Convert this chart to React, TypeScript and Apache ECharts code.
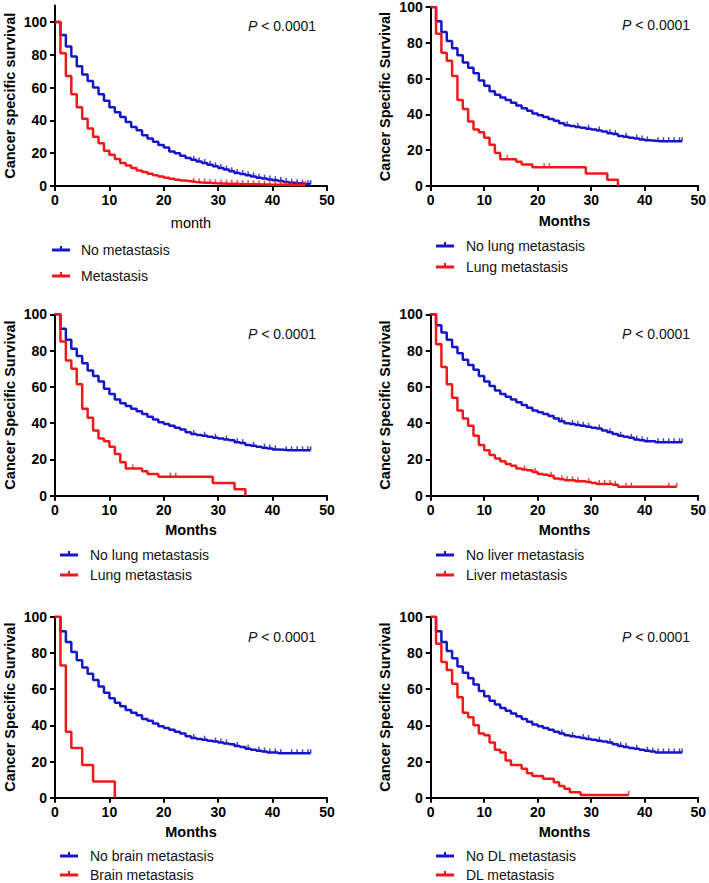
import React, { useEffect, useRef } from "react";
import * as echarts from "echarts";

// ---------- data (survival %, one value per month starting at month 0) ----------
const noMetastasis = [100, 92, 85, 79, 73, 68, 64, 60, 56, 52, 48, 45, 42, 39, 36, 34, 31, 29, 27, 25, 23.5, 21, 20, 18.5, 17, 16, 15, 14, 13, 12, 11, 10, 9, 8, 7.3, 6.5, 5.8, 5, 4.5, 4, 3.5, 3, 2.5, 2, 1.7, 1.4, 1.2, 1.2];
const metastasis = [100, 81, 67, 56, 48, 41, 35, 30, 26, 21.5, 19, 16.5, 14, 12.5, 11, 9.5, 8.5, 7.5, 6.5, 5.8, 5, 4.4, 3.8, 3.3, 2.9, 2.5, 2.2, 2, 1.8, 1.6, 1.5, 1.4, 1.3, 1.2, 1.1, 1, 1, 0.9, 0.9, 0.8, 0.8, 0.7, 0.7, 0.6, 0.6, 0.5, 0.5];
const noMetastasisCensor = [25.5, 26.5, 27.5, 28.5, 29.5, 30.5, 31.5, 32.5, 33.5, 34.5, 35.5, 36.5, 37.5, 38.5, 39.5, 40.5, 41.5, 42.5, 43.5, 44.5, 45.5, 46.5, 47];
const metastasisCensor = [25.5, 26.5, 27.5, 28.5, 29.5, 30.5, 31.5, 32.5, 33.5, 34.5, 35.5, 36.5, 37.5, 38.5, 39.5, 40.5, 41.5, 42.5, 43.5, 44.5, 45.5, 46];

const noLung = [100, 92, 86, 81, 77, 73, 69, 66, 63, 59, 56, 53, 51, 49.5, 48, 46.5, 45, 43.5, 42, 40.5, 39.5, 38.5, 37.5, 36.5, 35, 34, 33.5, 33, 32.5, 32, 31.5, 31, 30.5, 29.5, 29, 28, 27.5, 27, 26.5, 26, 25.5, 25.3, 25, 25, 25, 25, 25, 25];
const lung = [100, 85, 74.5, 70, 61.5, 48, 43, 36, 31.5, 30, 27, 23, 18.5, 15, 15, 15, 13.5, 12, 12, 10.5, 10.5, 10.5, 10.5, 10.5, 10.5, 10.5, 10.5, 10.5, 10.5, 7, 7, 7, 7, 3.5, 3.5, 0];
const noLungCensor = [25.5, 27.5, 29.5, 31.5, 33.5, 34.5, 36.5, 38.5, 39.5, 40.5, 42.5, 43.5, 44.5, 45.5, 46.5, 47];
const lungCensor = [14.3, 21.2, 22.2];

const noLiver = [100, 94, 90, 86, 82, 78.5, 75, 72, 69.5, 66, 63, 60.5, 58, 56, 54.5, 53, 51.5, 50, 48.5, 47, 46, 45, 44, 42.5, 41, 40, 39.5, 39, 38.5, 38, 37.5, 37, 36, 35, 34, 33, 32.5, 32, 31, 30.5, 30, 30, 29.5, 29.5, 29.5, 29.5, 29.5, 29.5];
const liver = [100, 83.5, 71, 61.5, 54, 47, 42.5, 38.5, 33, 28, 25, 22.5, 20.5, 19, 17.5, 16.5, 15, 14.5, 14, 13, 12, 11.5, 11, 9.5, 9, 8.5, 8.5, 8, 8, 7.5, 7, 6.5, 6.5, 6.5, 6, 5, 5, 5, 5, 5, 5, 5, 5, 5, 5, 5, 5];
const noLiverCensor = [24.5, 26.5, 27.5, 28.5, 29.5, 31.5, 33.5, 35.5, 37.5, 38.5, 39.5, 40.5, 42.5, 43.5, 44.5, 45.5, 46.5, 47];
const liverCensor = [17.5, 19.5, 22.5, 24.5, 25.5, 26.5, 27.5, 29.5, 31.5, 32.5, 33.5, 34.5, 36.5, 37.5, 44.5, 46];

const noBrain = [100, 92, 86, 80.5, 76, 72, 68.5, 65, 61.5, 58, 55, 52.5, 50.5, 48.5, 47, 45.5, 43.5, 42.5, 41, 39.5, 38.5, 37.5, 36.5, 35.5, 34, 33, 32.5, 32, 31.5, 31, 30.5, 30, 29.5, 28.5, 28, 27, 26.5, 26, 25.5, 25, 25, 24.5, 24.5, 24.5, 24.5, 24.5, 24.5, 24.5];
const brain = [100, 73, 36.5, 27.5, 27.5, 18, 18, 9, 9, 9, 9, 0];
const noBrainCensor = [25.5, 27.5, 29.5, 30.5, 31.5, 33.5, 35.5, 37.5, 38.5, 39.5, 40.5, 41.5, 43.5, 44.5, 45.5, 46.5, 47];
const brainCensor: number[] = [];

const noDL = [100, 92, 86, 81, 77, 72.5, 69, 66, 62.5, 59, 56, 53.5, 51.5, 49.5, 48, 46.5, 45, 43.5, 42, 40.5, 39.5, 38.5, 37.5, 36.5, 35.5, 34.5, 34, 33.5, 33, 32.5, 32, 31.5, 31, 30.5, 29.5, 28.5, 28, 27.5, 27, 26.5, 26, 25.5, 25, 25, 25, 25, 25, 25];
const dl = [100, 85, 75, 70.5, 63, 55.5, 47, 44.5, 40, 35.5, 34.5, 30.5, 26.5, 25, 20.5, 18, 18, 16, 13.5, 12, 12, 10.5, 10.5, 8.5, 6.5, 5, 3, 3, 1.5, 1.5, 1.5, 1.5, 1.5, 1.5, 1.5, 1.5, 1.5, 1.5];
const noDLCensor = [24.5, 26.5, 28.5, 29.5, 31.5, 33.5, 35.5, 36.5, 38.5, 40.5, 41.5, 42.5, 43.5, 44.5, 45.5, 46.5, 47];
const dlCensor = [37];

const legendNo = ["No metastasis", "No lung metastasis", "No lung metastasis", "No liver metastasis", "No brain metastasis", "No DL metastasis"];
const legendYes = ["Metastasis", "Lung metastasis", "Lung metastasis", "Liver metastasis", "Brain metastasis", "DL metastasis"];
const yTitles = ["Cancer specific survival", "Cancer Specific Survival", "Cancer Specific Survival", "Cancer Specific Survival", "Cancer Specific Survival", "Cancer Specific Survival"];
const xTitles = ["month", "Months", "Months", "Months", "Months", "Months"];
const pText = "P < 0.0001";
const yTickValues = [0, 20, 40, 60, 80, 100];

const curvesNo = [noMetastasis, noLung, noLung, noLiver, noBrain, noDL];
const curvesYes = [metastasis, lung, lung, liver, brain, dl];
const censorNo = [noMetastasisCensor, noLungCensor, noLungCensor, noLiverCensor, noBrainCensor, noDLCensor];
const censorYes = [metastasisCensor, lungCensor, lungCensor, liverCensor, brainCensor, dlCensor];

// ---------- layout ----------
const FONT = '"Liberation Sans", Arial, Helvetica, sans-serif';
const BLUE = "#1616c8";
const RED = "#f01818";
const grids = [
  { left: 55, top: 5.6, width: 272, height: 180.4, yMax: 110 },
  { left: 430.7, top: 5, width: 271, height: 181, yMax: 100 },
  { left: 55, top: 314.3, width: 272, height: 181.4, yMax: 100 },
  { left: 430.7, top: 314.3, width: 271, height: 181.4, yMax: 100 },
  { left: 55, top: 616.7, width: 272, height: 181, yMax: 100 },
  { left: 430.7, top: 616.7, width: 271, height: 181, yMax: 100 },
];
const legendPos = [
  { mx: 52, tx: 81, y1: 250, y2: 276 },
  { mx: 436, tx: 466, y1: 246, y2: 267 },
  { mx: 60, tx: 90, y1: 555, y2: 575 },
  { mx: 436, tx: 466, y1: 555, y2: 575 },
  { mx: 60, tx: 90, y1: 856, y2: 875 },
  { mx: 436, tx: 466, y1: 856, y2: 875 },
];
const pPos = [
  { x: 248, y: 26 },
  { x: 622, y: 25 },
  { x: 248, y: 334 },
  { x: 622, y: 334 },
  { x: 248, y: 637 },
  { x: 622, y: 637 },
];

function toSteps(vals: number[]) {
  return vals.map((v, i) => [i, v]);
}
function censorPoints(times: number[], vals: number[]) {
  return times.map((t) => [t, vals[Math.min(Math.floor(t), vals.length - 1)]]);
}

function legendItem(x: number, tx: number, y: number, color: string, label: string) {
  return {
    type: "group",
    children: [
      { type: "rect", shape: { x, y: y - 1.5, width: 18, height: 3 }, style: { fill: color } },
      { type: "rect", shape: { x: x + 8, y: y - 4, width: 2, height: 3 }, style: { fill: color } },
      {
        type: "text",
        x: tx,
        y,
        style: { text: label, fontSize: 14, fontFamily: FONT, fill: "#111", verticalAlign: "middle", align: "left" },
      },
    ],
  };
}

export default function App() {
  const ref = useRef<HTMLDivElement>(null);
  useEffect(() => {
    if (!ref.current) return;
    const chart = echarts.init(ref.current, undefined, { renderer: "svg" });
    const axisCommon = {
      axisLine: { show: true, lineStyle: { color: "#000", width: 2 } },
      axisTick: { show: true, length: 5, lineStyle: { color: "#000", width: 2 } },
      splitLine: { show: false },
    };
    const xAxis = grids.map((g, i) => ({
      ...axisCommon,
      type: "value",
      gridIndex: i,
      min: 0,
      max: 50,
      interval: 10,
      axisLabel: { color: "#000", fontWeight: "bold", fontSize: 14, fontFamily: FONT, margin: 7 },
      name: xTitles[i],
      nameLocation: "middle",
      nameGap: i === 0 ? 29 : 27,
      nameTextStyle: { color: "#000", fontSize: 14.5, fontWeight: i === 0 ? "normal" : "bold", fontFamily: FONT },
    }));
    const yAxis = grids.map((g, i) => ({
      ...axisCommon,
      type: "value",
      gridIndex: i,
      min: 0,
      max: g.yMax,
      interval: 20,
      axisTick: { ...axisCommon.axisTick, customValues: yTickValues },
      axisLabel: {
        color: "#000",
        fontWeight: "bold",
        fontSize: 14,
        fontFamily: FONT,
        margin: 8,
        customValues: yTickValues,
        formatter: (v: number) => (v > 100 ? "" : String(v)),
      },
      name: yTitles[i],
      nameLocation: "middle",
      nameGap: 38,
      nameTextStyle: { color: "#000", fontSize: 14.5, fontWeight: "bold", fontFamily: FONT },
    }));
    const series: any[] = [];
    grids.forEach((g, i) => {
      series.push({
        type: "line",
        name: legendNo[i] + " " + (i + 1),
        xAxisIndex: i,
        yAxisIndex: i,
        step: "end",
        symbol: "none",
        data: toSteps(curvesNo[i]),
        lineStyle: { color: BLUE, width: 2.5 },
        z: 3,
      });
      series.push({
        type: "line",
        name: legendYes[i] + " " + (i + 1),
        xAxisIndex: i,
        yAxisIndex: i,
        step: "end",
        symbol: "none",
        data: toSteps(curvesYes[i]),
        lineStyle: { color: RED, width: 2.5 },
        z: 4,
      });
      series.push({
        type: "scatter",
        name: legendNo[i] + " censored " + (i + 1),
        xAxisIndex: i,
        yAxisIndex: i,
        symbol: "rect",
        symbolSize: [1.5, 4],
        symbolOffset: [0, -2],
        data: censorPoints(censorNo[i], curvesNo[i]),
        itemStyle: { color: BLUE },
        z: 3,
      });
      series.push({
        type: "scatter",
        name: legendYes[i] + " censored " + (i + 1),
        xAxisIndex: i,
        yAxisIndex: i,
        symbol: "rect",
        symbolSize: [1.5, 4],
        symbolOffset: [0, -2],
        data: censorPoints(censorYes[i], curvesYes[i]),
        itemStyle: { color: RED },
        z: 4,
      });
    });
    const graphic: any[] = [];
    grids.forEach((g, i) => {
      const lp = legendPos[i];
      graphic.push(legendItem(lp.mx, lp.tx, lp.y1, BLUE, legendNo[i]));
      graphic.push(legendItem(lp.mx, lp.tx, lp.y2, RED, legendYes[i]));
      const pp = pPos[i];
      graphic.push({
        type: "text",
        x: pp.x,
        y: pp.y,
        style: {
          text: "{i|P}" + pText.slice(1),
          fontSize: 14,
          fontFamily: FONT,
          fill: "#111",
          verticalAlign: "middle",
          align: "left",
          rich: { i: { fontStyle: "italic", fontSize: 14, fontFamily: FONT, fill: "#111" } },
        },
      });
    });
    chart.setOption({
      animation: false,
      backgroundColor: "#fff",
      grid: grids.map((g) => ({ left: g.left, top: g.top, width: g.width, height: g.height, containLabel: false })),
      xAxis,
      yAxis,
      series,
      graphic,
    });
    return () => chart.dispose();
  }, []);
  return <div ref={ref} style={{ position: "absolute", left: 0, top: 0, width: 709, height: 883 }} />;
}
